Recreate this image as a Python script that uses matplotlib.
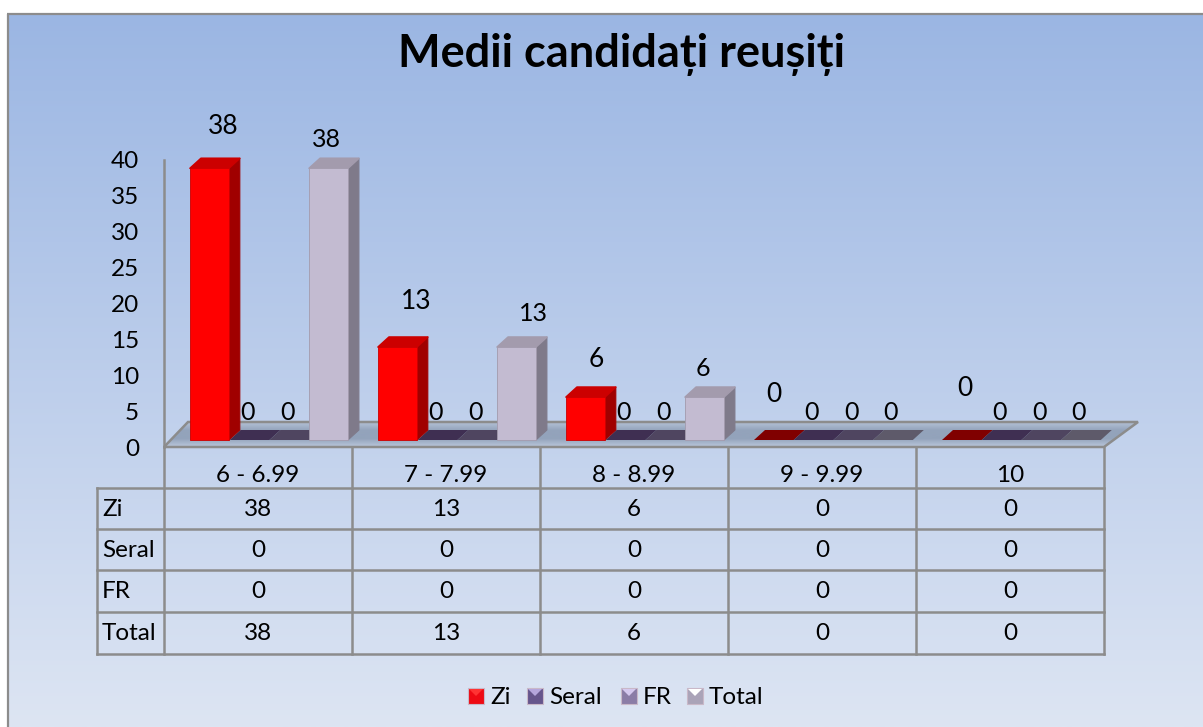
import numpy as np
import matplotlib
matplotlib.use('Agg')
import matplotlib.pyplot as plt
from matplotlib.colors import LinearSegmentedColormap
from matplotlib.patches import Polygon, Rectangle

plt.rcParams['font.family'] = ['Lato', 'DejaVu Sans']

categories = ['6 - 6.99', '7 - 7.99', '8 - 8.99', '9 - 9.99', '10']
series_names = ['Zi', 'Seral', 'FR', 'Total']
zi = [38, 13, 6, 0, 0]
seral = [0, 0, 0, 0, 0]
fr = [0, 0, 0, 0, 0]
total = [38, 13, 6, 0, 0]
y_ticks = [0, 5, 10, 15, 20, 25, 30, 35, 40]
title = 'Medii candidați reușiți'

W, H = 1203, 727
GREY = '#8c8c8c'
TXT = 17.5
front_col = ['#ff0000', '#5f4b8b', '#8a7ca6', '#c3bbd1']
side_col = ['#a00000', '#3f3252', '#5a5170', '#7f7a8a']
top_col = ['#cc0000', '#4a3d63', '#6d6285', '#a39bad']
zero_col = ['#800000', '#3f2f52', '#4f4560', '#5e5a6a']
legend_col = ['#ee0a14', '#66558c', '#8b7ca6', '#aaa3b8']
legend_light = ['#ff3333', '#b5a5dc', '#d5c8ee', '#ffffff']

# per label nudges, pixels (Excel had moved them by hand)
zi_dx = [13, 18, 10, 0, 3]
zi_dy = [32, 36, 28, 35, 42]
total_dx = [-2, 17, -2, -2, -2]
total_dy = [19, 24, 19, 18, 18]

fig = plt.figure(figsize=(W / 100, H / 100), dpi=100, facecolor='white')


def axes_px(left, top, right, bottom):
    return fig.add_axes([left / W, 1 - bottom / H, (right - left) / W, (bottom - top) / H])


# background axes in pixels
bg = fig.add_axes([0, 0, 1, 1])
bg.set_xlim(0, W)
bg.set_ylim(H, 0)
bg.axis('off')

grad = LinearSegmentedColormap.from_list('bg', ['#9bb6e3', '#dde5f3'])
bg.imshow(np.linspace(0, 1, 256).reshape(-1, 1), cmap=grad, aspect='auto',
          extent=[8, W + 2, H, 14], zorder=0)
bg.set_xlim(0, W)
bg.set_ylim(H, 0)
bg.plot([8, 8], [H, 14], color=GREY, lw=1.6, zorder=1, solid_capstyle='butt')
bg.plot([7, W], [14, 14], color=GREY, lw=1.6, zorder=1, solid_capstyle='butt')

bg.text(622, 55, title, ha='center', va='center', fontsize=32.5, fontweight='bold', color='black')

# floor
floor_xy = [(164, 447), (188, 422), (1138, 422), (1104, 447)]
floor_cm = LinearSegmentedColormap.from_list('floor', ['#b4c1d6', '#93a3bb', '#93a3bb', '#bac7dc'])
im = bg.imshow(np.linspace(0, 1, 64).reshape(-1, 1), cmap=floor_cm, aspect='auto',
               extent=[164, 1138, 447, 422], zorder=2)
floor = Polygon(floor_xy, closed=True, transform=bg.transData, fc='none', ec='none')
bg.add_patch(floor)
im.set_clip_path(floor)
bg.add_patch(Polygon(floor_xy, closed=True, fc='none', ec=GREY, lw=1.8, zorder=3))
bg.set_xlim(0, W)
bg.set_ylim(H, 0)

# table lines and text
col_edges = [164, 352, 540, 728, 916, 1104]
row_edges = [488, 529, 570, 612, 654]
for x in col_edges:
    bg.plot([x, x], [447, 654], color=GREY, lw=1.8, zorder=3)
bg.plot([97, 97], [488, 654], color=GREY, lw=1.8, zorder=3)
for y in row_edges:
    bg.plot([97, 1104], [y, y], color=GREY, lw=1.8, zorder=3)

table_rows = [zi, seral, fr, total]
for i, cat in enumerate(categories):
    cx = (col_edges[i] + col_edges[i + 1]) / 2
    bg.text(cx, 475, cat, ha='center', va='center', fontsize=TXT)
    for r, vals in enumerate(table_rows):
        cy = (row_edges[r] + row_edges[r + 1]) / 2 + 1
        bg.text(cx, cy, str(vals[i]), ha='center', va='center', fontsize=TXT)
for r, name in enumerate(series_names):
    cy = (row_edges[r] + row_edges[r + 1]) / 2 + 1
    bg.text(102, cy, name, ha='left', va='center', fontsize=TXT)

# legend
legend_x = [468, 527, 621, 687]
for name, lx, c, lc in zip(series_names, legend_x, legend_col, legend_light):
    bg.add_patch(Rectangle((lx, 688), 16, 16, fc=c, ec='#c9b8c8', lw=0.8, zorder=3))
    bg.add_patch(Polygon([(lx + 1, 689), (lx + 15, 689), (lx + 8, 696)], closed=True,
                         fc=lc, ec='none', zorder=4))
    bg.text(lx + 22, 697, name, ha='left', va='center', fontsize=TXT)

# value axis, drawn against the front floor edge
va = axes_px(164, 160, 1104, 447)
va.patch.set_alpha(0)
va.set_xlim(0, 5)
va.set_ylim(0, 40)
va.set_xticks([])
va.set_yticks(y_ticks)
va.tick_params(axis='y', length=0, pad=18, labelsize=TXT)
for s in ['top', 'right', 'bottom']:
    va.spines[s].set_visible(False)
va.spines['left'].set_color(GREY)
va.spines['left'].set_linewidth(1.8)

# bars, base sits on the floor
PX_PER_UNIT = 7.15
ax = axes_px(164, 440 - 40 * PX_PER_UNIT, 1104, 440)
ax.patch.set_alpha(0)
ax.set_xlim(0, 5)
ax.set_ylim(0, 40)
ax.axis('off')

pitch = 39.7 / 188
bar_w = 38.8 / 188
group_off = 26 / 188
dx = 11 / 188
dy = 10 / PX_PER_UNIT

for s, vals in enumerate(table_rows):
    xs = [i + group_off + pitch * s for i in range(len(vals))]
    for x, v in zip(xs, vals):
        if v == 0:
            ax.fill([x, x + pitch, x + pitch + dx, x + dx], [0, 0, dy, dy],
                    color=zero_col[s], lw=0, clip_on=False, zorder=3)
        else:
            # round joins soften the corners like the Excel bevel
            ax.fill([x + bar_w, x + bar_w + dx, x + bar_w + dx, x + bar_w], [0, dy, v + dy, v],
                    fc=side_col[s], ec=side_col[s], lw=0.8, joinstyle='round', clip_on=False, zorder=4 + s)
            ax.fill([x, x + bar_w, x + bar_w + dx, x + dx], [v, v, v + dy, v + dy],
                    fc=top_col[s], ec=top_col[s], lw=1.2, joinstyle='round', clip_on=False, zorder=4 + s)
    nz = [(x, v) for x, v in zip(xs, vals) if v > 0]
    if nz:
        ax.bar([p[0] for p in nz], [p[1] for p in nz], width=bar_w, align='edge',
               color=front_col[s], edgecolor=top_col[s], linewidth=0.6, clip_on=False, zorder=4 + s)

# data labels
for s, vals in enumerate(table_rows):
    for i, v in enumerate(vals):
        x = i + group_off + pitch * (s + 0.5)
        if s == 0:
            off = (zi_dx[i], zi_dy[i] + 10)
            size = 19
        elif s == 3:
            off = (total_dx[i], total_dy[i] + 10)
            size = 18
        else:
            off = (-2, 18 + 10)
            size = 18
        ax.annotate(str(v), (x, v), xytext=(off[0] * 0.72, off[1] * 0.72),
                    textcoords='offset points', ha='center', va='center',
                    fontsize=size, zorder=12, annotation_clip=False)

fig.savefig('out.png', dpi=100)
